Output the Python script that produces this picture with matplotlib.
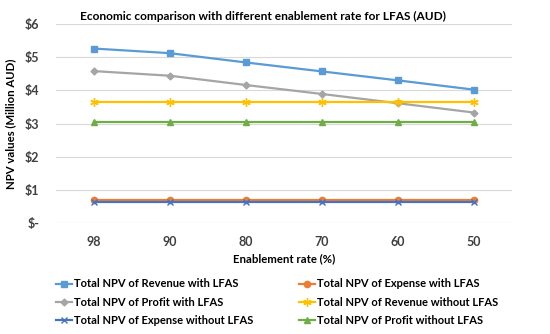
import matplotlib.pyplot as plt
import numpy as np

# Data (Million AUD)
rates = ["98", "90", "80", "70", "60", "50"]
rev_with = [5.26, 5.12, 4.84, 4.57, 4.30, 4.02]
exp_with = [0.69, 0.69, 0.69, 0.69, 0.69, 0.69]
prof_with = [4.58, 4.44, 4.16, 3.89, 3.61, 3.33]
rev_without = [3.66, 3.66, 3.66, 3.66, 3.66, 3.66]
exp_without = [0.62, 0.62, 0.62, 0.62, 0.62, 0.62]
prof_without = [3.05, 3.05, 3.05, 3.05, 3.05, 3.05]
yticks = [0, 1, 2, 3, 4, 5, 6]
ytick_labels = ["$-", "$1", "$2", "$3", "$4", "$5", "$6"]

plt.rcParams['font.family'] = ['Lato', 'DejaVu Sans']

fig = plt.figure(figsize=(5.5, 3.34), dpi=100)
ax = fig.add_axes([56 / 550, 1 - 223 / 334, 456 / 550, 199 / 334])

x = np.arange(len(rates))
series = [
    (rev_with, "Total NPV of Revenue with LFAS", "#5B9BD5", "s", 4.5),
    (exp_with, "Total NPV of Expense with LFAS", "#ED7D31", "o", 4.5),
    (prof_with, "Total NPV of Profit with LFAS", "#A5A5A5", "D", 3.5),
    (rev_without, "Total NPV of Revenue without LFAS", "#FFC000", (6, 2, 0), 6),
    (exp_without, "Total NPV of Expense without LFAS", "#4472C4", "x", 4.5),
    (prof_without, "Total NPV of Profit without LFAS", "#70AD47", "^", 4.5),
]
for vals, label, color, marker, ms in series:
    ax.plot(x, vals, color=color, lw=1.6, marker=marker, ms=ms,
            markeredgewidth=1.0, label=label)

ax.set_xlim(-0.5, len(rates) - 0.5)
ax.set_ylim(0, 6)
ax.set_xticks(x)
ax.set_xticklabels(rates, fontsize=9, fontweight='bold', color="#404040")
ax.set_yticks(yticks)
ax.set_yticklabels(ytick_labels, fontsize=9, fontweight='bold', color="#404040")
ax.tick_params(length=0, axis='y', pad=12)
ax.tick_params(length=0, axis='x', pad=9)
ax.grid(axis='y', color="#D9D9D9", lw=0.8)
ax.set_axisbelow(True)
for s in ax.spines.values():
    s.set_visible(False)

ax.set_xlabel("Enablement rate (%)", fontsize=8.2, fontweight='bold', labelpad=4)
ax.set_ylabel("NPV values (Million AUD)", fontsize=8.2, fontweight='bold', labelpad=6)
fig.text(263.5 / 550, 0.952, "Economic comparison with different enablement rate for LFAS (AUD)",
         ha='center', va='center', fontsize=8.6, fontweight='bold')

handles, labels = ax.get_legend_handles_labels()
order = [0, 2, 4, 1, 3, 5]
fig.legend([handles[i] for i in order], [labels[i] for i in order],
           loc='upper left', bbox_to_anchor=(52 / 550, 1 - 274 / 334), ncol=2,
           frameon=False, prop={'weight': 'bold', 'size': 8},
           handlelength=1.4, handletextpad=0.2, columnspacing=4.1,
           labelspacing=0.65, borderaxespad=0)

fig.savefig("out.png", dpi=100)
